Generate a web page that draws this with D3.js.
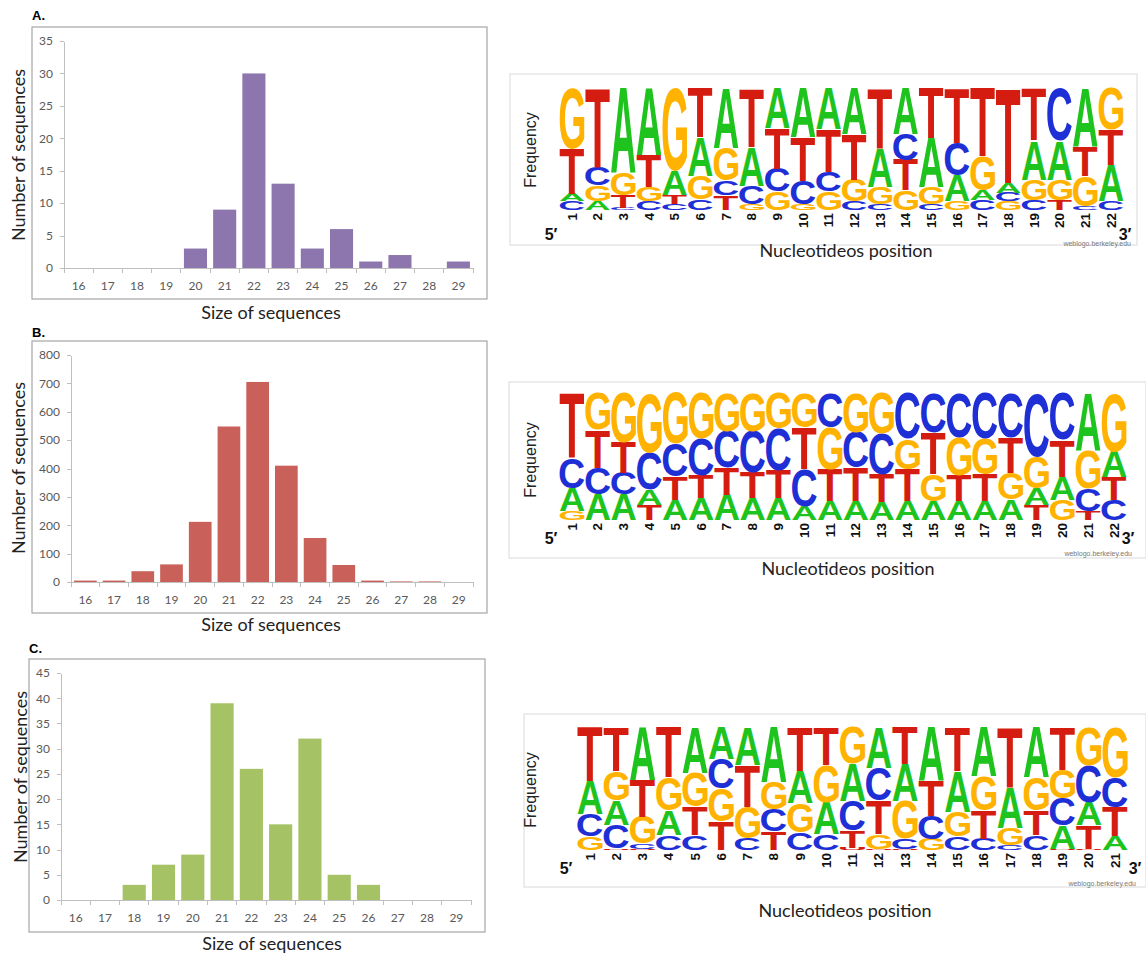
<html>
<head>
<script src="https://cdn.jsdelivr.net/npm/d3@7"></script>
<style>
body { margin: 0; background: #fff; }
svg { font-family: Lato, "Open Sans", sans-serif; }
.frame { fill: none; stroke: #a6a6a6; stroke-width: 1.2px; }
.axis path, .axis line, .xline { stroke: #bfbfbf; shape-rendering: crispEdges; }
.axis text, .xlab { fill: #595959; font-size: 12px; font-family: Lato, sans-serif; }
.title { font-size: 18px; fill: #222; }
.panel { font-family: "Liberation Sans", Arial, sans-serif; font-weight: bold; font-size: 13px; }
.lbox { fill: none; stroke: #e6e6e6; stroke-width: 1.5px; }
.pos { font-family: "Liberation Sans", Arial, sans-serif; font-weight: bold; font-size: 13.5px; fill: #111; }
.freq { font-family: "Liberation Sans", Arial, sans-serif; font-size: 16px; fill: #222; }
.prime { font-family: "Liberation Sans", Arial, sans-serif; font-weight: bold; font-size: 16px; fill: #111; }
.credit { font-family: "Liberation Sans", Arial, sans-serif; font-size: 7px; fill: #777; }
</style>
</head>
<body>
<svg id="fig" width="1146" height="955"></svg>
<script>
// sizes of the sequences (x categories)
var sizes = [16, 17, 18, 19, 20, 21, 22, 23, 24, 25, 26, 27, 28, 29];
var countsA = [0, 0, 0, 0, 3, 9, 30, 13, 3, 6, 1, 2, 0, 1];
var countsB = [5, 5, 38, 62, 212, 548, 705, 410, 155, 60, 5, 2, 2, 0];
var countsC = [0, 0, 3, 7, 9, 39, 26, 15, 32, 5, 3, 0, 0, 0];

// sequence logos: each column listed bottom -> top as [letter, frequency]
var logoA = [
  [["C",.07],["A",.06],["T",.37],["G",.50]],
  [["A",.07],["G",.13],["C",.15],["T",.65]],
  [["C",.02],["T",.10],["G",.18],["A",.70]],
  [["C",.07],["G",.12],["T",.26],["A",.55]],
  [["C",.05],["T",.07],["A",.20],["G",.68]],
  [["C",.09],["G",.19],["A",.32],["T",.40]],
  [["T",.12],["C",.12],["G",.27],["A",.49]],
  [["G",.05],["C",.15],["A",.32],["T",.48]],
  [["G",.15],["C",.19],["T",.33],["A",.33]],
  [["G",.05],["C",.19],["T",.36],["A",.40]],
  [["G",.15],["C",.16],["T",.35],["A",.34]],
  [["C",.07],["G",.18],["T",.37],["A",.38]],
  [["C",.05],["G",.14],["A",.32],["T",.49]],
  [["G",.16],["T",.25],["C",.21],["A",.38]],
  [["C",.05],["G",.14],["A",.40],["T",.41]],
  [["G",.07],["A",.21],["C",.27],["T",.45]],
  [["C",.08],["A",.08],["G",.28],["T",.56]],
  [["G",.07],["C",.07],["A",.08],["T",.78]],
  [["C",.08],["G",.17],["A",.32],["T",.43]],
  [["T",.08],["G",.17],["A",.32],["C",.43]],
  [["C",.03],["G",.25],["T",.24],["A",.48]],
  [["C",.07],["A",.30],["T",.29],["G",.34]]
];
var logoB = [
  [["G",.07],["A",.18],["C",.24],["T",.51]],
  [["A",.20],["C",.21],["T",.30],["G",.29]],
  [["A",.20],["C",.17],["T",.24],["G",.39]],
  [["T",.12],["A",.12],["C",.29],["G",.47]],
  [["A",.16],["T",.18],["C",.26],["G",.40]],
  [["A",.17],["T",.18],["C",.29],["G",.36]],
  [["A",.20],["T",.21],["C",.29],["G",.30]],
  [["A",.17],["T",.20],["C",.33],["G",.30]],
  [["A",.17],["T",.22],["C",.33],["G",.28]],
  [["A",.11],["C",.29],["T",.33],["G",.27]],
  [["A",.15],["T",.25],["G",.33],["C",.27]],
  [["A",.15],["T",.26],["C",.28],["G",.31]],
  [["A",.14],["T",.22],["C",.32],["G",.32]],
  [["A",.15],["T",.25],["G",.24],["C",.36]],
  [["A",.15],["G",.21],["T",.33],["C",.31]],
  [["A",.15],["T",.20],["G",.30],["C",.35]],
  [["A",.15],["T",.21],["G",.28],["C",.36]],
  [["A",.16],["G",.21],["T",.28],["C",.35]],
  [["T",.12],["A",.13],["G",.25],["C",.50]],
  [["G",.16],["A",.18],["T",.29],["C",.37]],
  [["T",.07],["C",.18],["G",.30],["A",.45]],
  [["C",.16],["T",.18],["A",.20],["G",.46]]
];
var logoC = [
  [["G",.11],["C",.18],["A",.27],["T",.44]],
  [["U",.01],["C",.19],["A",.20],["G",.24],["T",.36]],
  [["U",.01],["C",.04],["G",.22],["T",.30],["A",.43]],
  [["C",.12],["A",.20],["G",.27],["T",.41]],
  [["C",.12],["T",.23],["G",.28],["A",.37]],
  [["T",.23],["G",.27],["C",.24],["A",.26]],
  [["C",.09],["G",.26],["T",.34],["A",.31]],
  [["T",.15],["C",.18],["G",.22],["A",.45]],
  [["C",.14],["G",.24],["A",.26],["T",.36]],
  [["C",.13],["A",.26],["G",.30],["T",.31]],
  [["U",.02],["T",.14],["C",.24],["A",.30],["G",.30]],
  [["U",.01],["G",.12],["T",.27],["C",.27],["A",.33]],
  [["U",.01],["C",.08],["G",.31],["A",.30],["T",.30]],
  [["G",.09],["C",.19],["T",.28],["A",.44]],
  [["C",.11],["G",.20],["A",.33],["T",.36]],
  [["C",.09],["T",.23],["G",.28],["A",.40]],
  [["C",.04],["G",.14],["A",.33],["T",.49]],
  [["C",.12],["T",.20],["G",.27],["A",.41]],
  [["U",.01],["A",.19],["C",.22],["G",.23],["T",.35]],
  [["U",.01],["T",.19],["A",.19],["C",.30],["G",.31]],
  [["A",.11],["T",.24],["C",.24],["G",.41]]
];

var baseColor = {A: "#1ec31e", C: "#1f2fd6", G: "#ffb300", T: "#d41c10", U: "#d41c10"};

var svg = d3.select("#fig");

function barChart(o) {
  var g = svg.append("g");
  g.append("rect").attr("class", "frame")
    .attr("x", o.frame[0]).attr("y", o.frame[1])
    .attr("width", o.frame[2] - o.frame[0]).attr("height", o.frame[3] - o.frame[1]);
  g.append("text").attr("class", "panel").attr("x", o.frame[0]).attr("y", o.labelY).text(o.label);

  var x = d3.scaleBand().domain(sizes).range([o.x0, o.x1]).paddingInner(0.21).paddingOuter(0.105);
  var y = d3.scaleLinear().domain([0, o.max]).range([o.y0, o.yTop]);

  g.append("g").attr("class", "axis").attr("transform", "translate(" + o.x0 + ",0)")
    .call(d3.axisLeft(y).tickValues(d3.range(0, o.max + 1, o.step)).tickSize(4).tickSizeOuter(0).tickPadding(7));

  // x axis with ticks between categories
  g.append("line").attr("class", "xline").attr("x1", o.x0).attr("x2", o.x1).attr("y1", o.y0).attr("y2", o.y0);
  d3.range(sizes.length + 1).forEach(function(i) {
    var xx = o.x0 + i * x.step();
    g.append("line").attr("class", "xline").attr("x1", xx).attr("x2", xx).attr("y1", o.y0).attr("y2", o.y0 + 5);
  });
  g.selectAll("text.xlab").data(sizes).enter().append("text").attr("class", "xlab")
    .attr("x", function(d) { return x(d) + x.bandwidth() / 2; })
    .attr("y", o.y0 + 17).attr("text-anchor", "middle").attr("dominant-baseline", "central")
    .text(function(d) { return d; });

  g.selectAll("rect.bar").data(o.counts).enter().append("rect").attr("class", "bar")
    .attr("x", function(d, i) { return x(sizes[i]); })
    .attr("width", x.bandwidth())
    .attr("y", function(d) { return y(d); })
    .attr("height", function(d) { return o.y0 - y(d); })
    .attr("fill", o.color);

  g.append("text").attr("class", "title").attr("x", o.titleX).attr("y", o.titleY)
    .attr("text-anchor", "middle").attr("dominant-baseline", "central").text("Size of sequences");
  g.append("text").attr("class", "title").attr("transform", "translate(" + o.yTitle[0] + "," + o.yTitle[1] + ") rotate(-90)")
    .attr("text-anchor", "middle").attr("dominant-baseline", "central").text("Number of sequences");
}

// ink bounds of the logo glyphs, measured once on a canvas
var ctx = document.createElement("canvas").getContext("2d");
var glyphFont = "bold 100px 'Liberation Sans'";
ctx.font = glyphFont;
var inkCache = {};
function ink(ch) {
  if (!inkCache[ch]) {
    var m = ctx.measureText(ch);
    inkCache[ch] = {l: m.actualBoundingBoxLeft, r: m.actualBoundingBoxRight,
                    a: m.actualBoundingBoxAscent, d: m.actualBoundingBoxDescent};
  }
  return inkCache[ch];
}

function glyph(g, ch, x0, yTop, w, h) {
  if (h < 0.3) return;
  var b = ink(ch);
  var sx = w / (b.l + b.r), sy = h / (b.a + b.d);
  g.append("text")
    .attr("transform", "translate(" + (x0 + b.l * sx) + "," + (yTop + b.a * sy) + ") scale(" + sx + "," + sy + ")")
    .style("font", glyphFont)
    .attr("fill", baseColor[ch])
    .text(ch);
}

function logo(o, cols) {
  var g = svg.append("g");
  g.append("rect").attr("class", "lbox").attr("x", o.box[0]).attr("y", o.box[1])
    .attr("width", o.box[2] - o.box[0]).attr("height", o.box[3] - o.box[1]);

  var x = d3.scalePoint().domain(d3.range(1, cols.length + 1)).range([o.c1, o.cN]);
  var y = d3.scaleLinear().domain([0, 1]).range([o.bottom, o.top]);
  var w = x.step() * 0.96;

  cols.forEach(function(stack, i) {
    var tot = d3.sum(stack, function(s) { return s[1]; });
    var acc = 0;
    stack.forEach(function(s) {
      var f = s[1] / tot;
      var yb = y(acc), yt = y(acc + f);
      glyph(g, s[0], x(i + 1) - w / 2, yt, w, yb - yt);
      acc += f;
    });
    g.append("text").attr("class", "pos")
      .attr("transform", "translate(" + x(i + 1) + "," + (o.bottom + 3) + ") rotate(-90)")
      .attr("text-anchor", "end").attr("dominant-baseline", "central")
      .text(i + 1);
  });

  g.append("text").attr("class", "prime").attr("x", o.p5[0]).attr("y", o.p5[1])
    .attr("text-anchor", "middle").attr("dominant-baseline", "central").text("5\u2032");
  g.append("text").attr("class", "prime").attr("x", o.p3[0]).attr("y", o.p3[1])
    .attr("text-anchor", "middle").attr("dominant-baseline", "central").text("3\u2032");
  g.append("text").attr("class", "freq")
    .attr("transform", "translate(" + o.freq[0] + "," + o.freq[1] + ") rotate(-90)")
    .attr("text-anchor", "middle").attr("dominant-baseline", "central").text("Frequency");
  g.append("text").attr("class", "credit").attr("x", o.credit[0]).attr("y", o.credit[1])
    .attr("text-anchor", "end").attr("dominant-baseline", "central").text("weblogo.berkeley.edu");
  g.append("text").attr("class", "title").attr("x", o.xt[0]).attr("y", o.xt[1])
    .attr("text-anchor", "middle").attr("dominant-baseline", "central").text("Nucleotideos position");
}

barChart({label: "A.", labelY: 20, frame: [32, 27, 487, 299], x0: 64, x1: 473, y0: 268, yTop: 41,
  max: 35, step: 5, counts: countsA, color: "#8d76ad", titleX: 271, titleY: 312, yTitle: [18, 155]});
barChart({label: "B.", labelY: 337, frame: [32, 341, 487, 613], x0: 71, x1: 473, y0: 582, yTop: 355,
  max: 800, step: 100, counts: countsB, color: "#c9605a", titleX: 271, titleY: 624, yTitle: [18, 468]});
barChart({label: "C.", labelY: 653, frame: [29, 659, 485, 932], x0: 61, x1: 471, y0: 900, yTop: 673,
  max: 45, step: 5, counts: countsC, color: "#a5c265", titleX: 272, titleY: 943, yTitle: [20, 777]});

logo({box: [510, 74, 1137, 245], c1: 572, cN: 1111, top: 88, bottom: 210,
  p5: [551, 234], p3: [1125, 234], freq: [530, 150], credit: [1131, 243], xt: [846, 250]}, logoA);
logo({box: [509, 382, 1146, 558], c1: 572, cN: 1114, top: 393, bottom: 520,
  p5: [551, 538], p3: [1128, 538], freq: [530, 460], credit: [1132, 553], xt: [848, 568]}, logoB);
logo({box: [524, 714, 1146, 887], c1: 590, cN: 1115, top: 727, bottom: 850,
  p5: [566, 868], p3: [1135, 868], freq: [530, 790], credit: [1136, 883], xt: [845, 910]}, logoC);
</script>
</body>
</html>
